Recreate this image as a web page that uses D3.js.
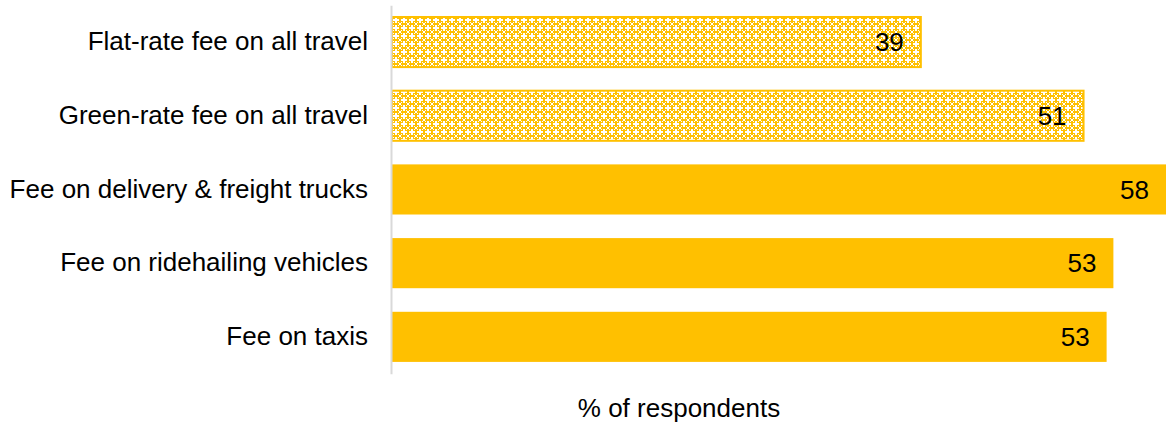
<!DOCTYPE html>
<html>
<head>
<meta charset="utf-8">
<script src="https://cdn.jsdelivr.net/npm/d3@7"></script>
<style>
  html, body { margin: 0; padding: 0; background: #fff; }
  svg { display: block; font-family: "Liberation Sans", Arial, sans-serif; }
</style>
</head>
<body>
<svg id="chart" width="1166" height="424"></svg>
<script>
// Support for road-use fee options (% of respondents)
const categories = [
  "Flat-rate fee on all travel",
  "Green-rate fee on all travel",
  "Fee on delivery & freight trucks",
  "Fee on ridehailing vehicles",
  "Fee on taxis"
];
const values = [39, 51, 58, 53.2, 52.7];
// the first two options are shown with a lattice fill
const hatched = [true, true, false, false, false];
const axisTitle = "% of respondents";

const width = 1166, height = 424;
const gold = "#FFC000";
const fontSize = 26;

const svg = d3.select("#chart");

// lattice fill: white crosses on a gold ground
const defs = svg.append("defs");
const pat = defs.append("pattern")
  .attr("id", "lace")
  .attr("patternUnits", "userSpaceOnUse")
  .attr("width", 8).attr("height", 8);
pat.append("rect").attr("width", 8).attr("height", 8).attr("fill", gold);
const holes = [
  [3, 1, 2, 6], [1, 3, 6, 2],            // central cross
  [0, 0, 1, 1], [7, 0, 1, 1], [0, 7, 1, 1], [7, 7, 1, 1], // junction square
  [1, 1, 1, 1], [6, 1, 1, 1], [1, 6, 1, 1], [6, 6, 1, 1]  // diagonal specks
];
holes.forEach(([hx, hy, hw, hh]) => {
  pat.append("rect").attr("x", hx).attr("y", hy)
    .attr("width", hw).attr("height", hh).attr("fill", "#fff");
});

const x0 = 392;
const x = d3.scaleLinear().domain([0, 100]).range([x0, x0 + 1356]);
const y = d3.scaleBand().domain(categories).range([5.2, 373.7])
  .paddingInner(0.32).paddingOuter(0.16);

// bars
svg.append("g").selectAll("rect")
  .data(categories)
  .join("rect")
  .attr("x", x(0))
  .attr("y", d => y(d))
  .attr("height", y.bandwidth())
  .attr("width", (d, i) => x(values[i]) - x(0))
  .attr("fill", (d, i) => hatched[i] ? "url(#lace)" : gold)
  .attr("stroke", (d, i) => hatched[i] ? gold : "none")
  .attr("stroke-width", 2);

// value labels inside bar ends
svg.append("g").selectAll("text")
  .data(categories)
  .join("text")
  .attr("x", (d, i) => Math.min(x(values[i]), width) - 17)
  .attr("y", d => y(d) + y.bandwidth() / 2)
  .attr("dy", "0.35em")
  .attr("text-anchor", "end")
  .attr("font-size", fontSize)
  .attr("fill", "#000")
  .text((d, i) => d3.format(".0f")(values[i]));

// category axis
const yAxis = d3.axisLeft(y).tickSize(0).tickPadding(23);
const gy = svg.append("g").attr("transform", `translate(${x0 - 1},0)`).call(yAxis);
gy.select(".domain").attr("stroke", "#d9d9d9").attr("stroke-width", 2);
gy.selectAll("text").attr("font-size", fontSize).attr("fill", "#000")
  .attr("font-family", "Liberation Sans, Arial, sans-serif");

// axis title
svg.append("text")
  .attr("x", 679)
  .attr("y", 408)
  .attr("dy", "0.35em")
  .attr("text-anchor", "middle")
  .attr("font-size", fontSize)
  .attr("fill", "#000")
  .text(axisTitle);
</script>
</body>
</html>
